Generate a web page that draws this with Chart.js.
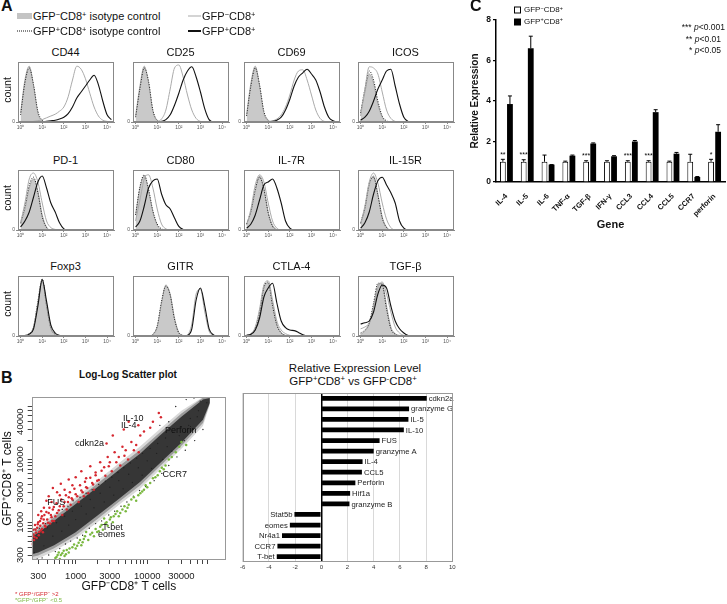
<!DOCTYPE html>
<html><head><meta charset="utf-8">
<script src="https://cdn.jsdelivr.net/npm/chart.js@4.4.1/dist/chart.umd.min.js"></script>
<style>
body{margin:0;background:#fff}
#fig{position:relative;width:727px;height:604px;font-family:Arial,"Liberation Sans",sans-serif;color:#111;overflow:hidden}
#fig canvas{position:absolute}
.t{position:absolute;white-space:nowrap;line-height:1}
sup{font-size:68%;vertical-align:0;position:relative;top:-0.45em}
</style></head><body><div id="fig"></div>
<script>
// ---- panel A: flow histograms (x = log10 fluorescence, y = % of max) ----
const histX = [0,0.2,0.4,0.6,0.8,1,1.2,1.4,1.6,1.8,2,2.2,2.4,2.6,2.8,3,3.2,3.4,3.6,3.8,4,4.2];
const markers = ['CD44','CD25','CD69','ICOS','PD-1','CD80','IL-7R','IL-15R','Foxp3','GITR','CTLA-4','TGF-β'];

const cd44IsoNeg = [15,70,93,60,15,2];
const cd44IsoPos = [12,65,90,62,18,3];
const cd44Neg = [0,0,0,1,2,4,7,10,13,18,25,42,70,93,88,72,48,25,10,3,1,0];
const cd44Pos = [0,0,0,0,0,0,1,2,3,5,8,14,25,40,50,60,70,78,62,35,12,4];

const cd25IsoNeg = [10,60,93,65,18,2];
const cd25IsoPos = [8,55,90,68,20,3];
const cd25Neg = [0,0,0,0,0,1,5,20,55,90,95,75,45,20,6,1];
const cd25Pos = [0,0,0,0,0,0,1,4,12,28,48,70,85,92,75,50,22,4];

const cd69IsoNeg = [12,65,93,60,15,2];
const cd69IsoPos = [10,60,90,62,18,3];
const cd69Neg = [0,0,0,0,0,1,2,5,12,25,45,70,85,87,70,45,20,6,1];
const cd69Pos = [0,0,0,0,0,0,1,3,8,20,38,60,75,82,88,80,70,50,25,8,2];

const icosIsoNeg = [15,50,80,65,30,8,1];
const icosIsoPos = [15,55,85,70,35,10,2];
const icosNeg = [10,55,92,90,80,50,20,6,1];
const icosPos = [3,8,18,35,55,70,85,88,60,30,8,1];

const pd1IsoNeg = [10,35,70,85,65,25,5];
const pd1IsoPos = [12,40,75,88,62,22,4];
const pd1Neg = [12,45,85,95,80,45,15,4,1];
const pd1Pos = [5,15,30,55,80,90,70,45,30,12,2];

const cd80IsoNeg = [25,70,90,65,30,8,1];
const cd80IsoPos = [25,72,92,68,32,10,2];
const cd80Neg = [15,50,85,92,70,35,10,2];
const cd80Pos = [5,15,40,70,82,85,60,42,35,20,6,1];

const il7rIsoNeg = [10,30,65,90,70,30,8,1];
const il7rIsoPos = [10,32,68,88,68,28,6];
const il7rNeg = [8,35,75,92,80,45,15,3];
const il7rPos = [3,10,25,50,75,80,85,70,45,15,3];

const il15rIsoNeg = [10,35,75,90,60,22,5];
const il15rIsoPos = [12,38,78,88,58,20,4];
const il15rNeg = [10,40,80,95,78,45,18,4];
const il15rPos = [3,12,30,60,82,88,75,62,45,15,3];

const foxp3IsoNeg = [0,1,4,15,55,93,50,12,3,1];
const foxp3IsoPos = [0,1,4,15,58,95,52,14,3,1];
const foxp3Neg = [0,0,3,14,55,92,52,14,4,1];
const foxp3Pos = [0,0,3,12,50,94,58,18,5,1];

const gitrIsoNeg = [0,0,0,0,2,15,55,85,70,30,6,1];
const gitrIsoPos = [0,0,0,0,3,17,58,83,68,28,5,1];
const gitrNeg = [0,0,0,0,0,0,0,0,0,0,0,0,2,20,70,78,40,8,1];
const gitrPos = [0,0,0,0,0,0,0,0,0,0,0,0,1,12,60,80,50,12,2];

const ctla4IsoNeg = [1,3,10,35,80,88,55,20,6,1];
const ctla4IsoPos = [1,3,12,40,82,90,50,18,5,1];
const ctla4Neg = [1,4,15,45,85,92,60,25,10,4,1];
const ctla4Pos = [1,3,10,30,65,80,88,55,25,14,10,9,6,2];

const tgfbIsoNeg = [3,8,20,50,85,88,50,15,4,1];
const tgfbIsoPos = [5,10,22,55,88,85,45,12,3];
const tgfbNeg = [12,15,22,45,80,90,70,40,15,5,1];
const tgfbPos = [20,22,25,40,70,85,80,50,25,12,5,1];

// ---- panel B: log-log scatter ----
const redPts = [[245,450],[250,600],[255,760],[262,520],[270,900],[280,680],[290,820],[300,1000],[310,700],[320,880],[330,1150],[340,780],[352,960],[365,1300],[380,850],[400,1100],[420,1400],[440,950],[460,1200],[480,1600],[500,1050],
  [248,520],[258,640],[266,580],[275,760],[285,560],[295,930],[305,620],[318,1050],[326,740],[338,1250],[348,690],[358,1100],[372,880],[390,1450],[410,980],[430,1700],[450,1300],[470,1050],[495,1750],[520,1250],
  [360,1700],[300,1300],[330,1500],[460,2100],[600,2700],[390,2200],
  [540,2000],[580,1550],[630,2300],[680,1800],[730,2700],[780,2100],[830,3000],[880,2400],[960,3400],[1050,2600],[1150,3900],[1250,3000],[1350,4400],[1450,3500],[1600,5100],[1750,4000],[1900,5600],[2100,4700],[2300,6600],[2600,5500],[2900,7800],[3200,6500],[3700,9000],[4200,8000],[4800,11500],[5400,10000],[6500,14000],[7600,13000],
  [550,1400],[600,1800],[650,1300],[700,2100],[750,1600],[800,2500],[850,1900],[900,2300],[1000,2800],[1100,2100],[1200,3200],[1300,2600],[1400,3600],[1500,2900],[1700,4200],[1800,3300],[2000,4600],
  [420,2600],[480,3500],[550,3000],[620,4100],[700,3300],[800,4800],[900,3900],[1000,5200],[1200,6500],[1400,5000],[1600,7800],[1900,6200],[2200,9000],[2500,7500],[2800,11000],[2700,18000],[3000,9000],[3500,13000],
  [4000,11000],[4500,16000],[5000,14000],[6000,19000],[7000,17000],[8000,24000],[3300,24000],[4700,30000],[5500,40000],[9000,28000],[11000,32000],[14500,55000],[15500,47000],[12000,40000],[7500,35000]];
const greenPts = [[520,270],[560,300],[600,260],[650,320],[700,290],[700,240],[750,360],[800,330],[900,400],[1000,380],[1100,470],[1200,430],[1300,540],[1400,700],[1500,520],[1600,640],[1800,600],[2000,700],[2200,850],[2400,760],[2500,1150],[2600,950],[2800,880],
  [3000,1100],[3300,1000],[3600,1350],[4000,1250],[4500,1600],[5000,1500],[5500,1900],[6000,2300],[7000,2200],[8000,2900],[9000,3300],[10000,3600],[11000,4200],[12000,5000],[14000,5600],[16000,7400],[18000,8000],[20000,10000],[25000,13000],[30000,19000],[35000,17000],
  [540,280],[580,330],[620,300],[680,350],[730,310],[820,380],[950,440],[1050,420],[1150,520],[1250,480],[1350,600],[1700,680],[1900,780],[2100,720],[2300,900],[2700,1000],[3100,1200],[3400,1250],[3800,1500],[4200,1400],[4800,1800],[5300,1700],[6500,2500],[7500,2700],[8500,3100],[9500,3900],[13000,5200],[15000,6500],[17000,7000],[22000,11000],[28000,16000]];
const blackPts = [[250,250],[270,780],[290,260],[310,800],[340,270],[380,950],[420,300],[460,1200],[520,340],[560,1400],[600,380],[650,1600],[720,450],[780,1800],[850,500],[920,2200],[1050,560],[1150,2500],[1250,620],[1400,2900],
  [1550,800],[1700,3300],[1900,950],[2100,4000],[2300,1050],[2600,4500],[2900,1300],[3200,5200],[3500,1500],[3900,6200],[4300,1800],[4700,7400],[5200,2100],[5800,8800],[6400,2600],[7100,10500],[7800,3200],[8600,12500],[9500,3700],
  [11000,15000],[12500,4600],[14000,18000],[16000,6000],[18000,22000],[20000,8000],[23000,27000],[26000,11000],[30000,33000],[34000,14000],[40000,45000],[46000,20000],[52000,60000],[60000,30000],[68000,80000],[25000,70000],[35000,90000],[45000,95000],[55000,85000],[20000,40000],[15000,35000],
  [265,330],[300,560],[360,420],[400,820],[480,600],[540,980],[640,720],[700,1250],[800,900],[900,1500],[1000,1100],[1200,1800],[1400,1350],[1600,2300],[1800,1700],[2200,2900],[2500,2100],[3000,3600],[3400,2700],[4000,4600],[4600,3400],[5500,5800],[6200,4300],[7500,7400],[8500,5600],[10000,9500],[11500,7200],[13500,12500],[16500,10000],[19000,16000],[22000,13500],[28000,24000],[33000,20000],[38000,35000],[44000,30000],[50000,48000]];
// dense core of the black cloud: upper / lower edge along GFP- axis
const bandX = [243,300,500,1000,2000,4000,8000,15000,30000,60000,75000];
const coreLow = [310,330,430,690,1270,2350,4400,8700,18500,43000,80000];
const coreHigh = [580,680,1060,1950,3600,6800,12500,24000,48000,90000,95000];
const midLow = [280,295,385,615,1120,2100,3900,7800,16500,38000,78000];
const midHigh = [650,770,1200,2200,4100,7700,14300,27000,54000,96000,98000];
const fringeLow = [255,265,345,550,990,1880,3450,6900,14800,34000,75000];
const fringeHigh = [730,860,1350,2500,4600,8700,16200,30500,60000,99000,99000];
const scTicks = [300,400,500,600,700,800,900,1000,2000,3000,4000,5000,6000,7000,8000,9000,10000,20000,30000,40000,50000,60000,70000];
const scXLabels = [300,1000,3000,10000,30000];
const scYLabels = [300,1000,3000,10000,40000];
const annText = ['IL-10','IL-4','Perforin','cdkn2a','FUS','CCR7','T-bet','eomes'];
const annX = [4600,4300,17700,980,400,16300,2350,2050];
const annY = [44700,34700,28900,18100,2050,5860,830,640];

// ---- panel B: relative expression bars ----
const genesB = ['cdkn2a','granzyme G','IL-5','IL-10','FUS','granzyme A','IL-4','CCL5','Perforin','Hif1a','granzyme B','Stat5b','eomes','Nr4a1','CCR7','T-bet'];
const valuesB = [8.05,6.7,6.65,6.3,4.45,4.0,3.15,3.1,2.6,2.2,2.15,-2.05,-2.4,-3.0,-3.35,-3.4];

// ---- panel C: qPCR ----
const genesC = ['IL-4','IL-5','IL-6','TNF-α','TGF-β','IFN-γ','CCL3','CCL4','CCL5','CCR7','perforin'];
const negC = [1,1,1,1,1,1,1,1,1,1,1];
const negErrC = [0.12,0.1,0.33,0.03,0.05,0.05,0.05,0.05,0.03,0.37,0.12];
const posC = [3.85,6.6,0.86,1.3,1.9,1.27,2.0,3.45,1.4,0.25,2.48];
const posErrC = [0.4,0.6,0,0.03,0.03,0.03,0.05,0.12,0.06,0.02,0.35];
const starsC = ['**','***','','','***','','***','***','','','*'];

const histData = {
  'CD44':[cd44IsoNeg,cd44IsoPos,cd44Neg,cd44Pos], 'CD25':[cd25IsoNeg,cd25IsoPos,cd25Neg,cd25Pos],
  'CD69':[cd69IsoNeg,cd69IsoPos,cd69Neg,cd69Pos], 'ICOS':[icosIsoNeg,icosIsoPos,icosNeg,icosPos],
  'PD-1':[pd1IsoNeg,pd1IsoPos,pd1Neg,pd1Pos], 'CD80':[cd80IsoNeg,cd80IsoPos,cd80Neg,cd80Pos],
  'IL-7R':[il7rIsoNeg,il7rIsoPos,il7rNeg,il7rPos], 'IL-15R':[il15rIsoNeg,il15rIsoPos,il15rNeg,il15rPos],
  'Foxp3':[foxp3IsoNeg,foxp3IsoPos,foxp3Neg,foxp3Pos], 'GITR':[gitrIsoNeg,gitrIsoPos,gitrNeg,gitrPos],
  'CTLA-4':[ctla4IsoNeg,ctla4IsoPos,ctla4Neg,ctla4Pos], 'TGF-β':[tgfbIsoNeg,tgfbIsoPos,tgfbNeg,tgfbPos]
};

const FONT = 'Arial, "Liberation Sans", sans-serif';
Chart.defaults.font.family = FONT;
Chart.defaults.color = '#111';

const fig = document.getElementById('fig');
function label(html, x, y, css, align) {
  const d = document.createElement('div');
  d.className = 't'; d.innerHTML = html;
  d.style.left = x + 'px'; d.style.top = y + 'px';
  const tf = {c:'translate(-50%,-50%)', l:'translate(0,-50%)', r:'translate(-100%,-50%)', v:'translate(-50%,-50%) rotate(-90deg)'};
  d.style.transform = tf[align || 'c'];
  if (css) d.style.cssText += css;
  fig.appendChild(d);
}
function canvasAt(x, y, w, h) {
  const c = document.createElement('canvas');
  c.width = w; c.height = h;
  c.style.left = x + 'px'; c.style.top = y + 'px';
  c.style.width = w + 'px'; c.style.height = h + 'px';
  fig.appendChild(c);
  return c;
}

// box round the plot area
Chart.register({
  id: 'box',
  afterDraw(chart, args, o) {
    if (!o.color) return;
    const a = chart.chartArea, ctx = chart.ctx;
    ctx.save(); ctx.strokeStyle = o.color; ctx.lineWidth = 1;
    ctx.strokeRect(Math.round(a.left) + 0.5, Math.round(a.top) + 0.5, Math.round(a.right - a.left) - 1, Math.round(a.bottom - a.top) - 1);
    ctx.restore();
  }
});
// gene names next to the horizontal bars
Chart.register({
  id: 'barlabels',
  afterDatasetsDraw(chart, args, o) {
    if (!o.on) return;
    const ctx = chart.ctx, meta = chart.getDatasetMeta(0);
    ctx.save(); ctx.font = '7.7px ' + FONT; ctx.fillStyle = '#222'; ctx.textBaseline = 'middle';
    meta.data.forEach((bar, j) => {
      const v = chart.data.datasets[0].data[j];
      ctx.textAlign = v >= 0 ? 'left' : 'right';
      ctx.fillText(chart.data.labels[j], v >= 0 ? bar.x + 2 : bar.x - 2, bar.y + 0.5);
    });
    ctx.restore();
  }
});
// named genes in the scatter
Chart.register({
  id: 'annot',
  afterDatasetsDraw(chart, args, o) {
    if (!o.text) return;
    const ctx = chart.ctx, xs = chart.scales.x, ys = chart.scales.y;
    ctx.save(); ctx.font = '9px ' + FONT; ctx.fillStyle = '#111'; ctx.textBaseline = 'middle'; ctx.textAlign = 'left';
    o.text.forEach((t, i) => ctx.fillText(t, xs.getPixelForValue(o.x[i]), ys.getPixelForValue(o.y[i])));
    ctx.restore();
  }
});
// error bars (upper half) + significance stars
Chart.register({
  id: 'errbars',
  afterDatasetsDraw(chart, args, o) {
    if (!o.errs) return;
    const ctx = chart.ctx, ys = chart.scales.y;
    ctx.save(); ctx.strokeStyle = '#000'; ctx.lineWidth = 1; ctx.fillStyle = '#000';
    ctx.font = '7px ' + FONT; ctx.textAlign = 'center'; ctx.textBaseline = 'bottom';
    o.errs.forEach((errs, d) => {
      chart.getDatasetMeta(d).data.forEach((bar, j) => {
        const v = chart.data.datasets[d].data[j];
        const top = ys.getPixelForValue(v + errs[j]);
        ctx.beginPath(); ctx.moveTo(bar.x, bar.y); ctx.lineTo(bar.x, top);
        ctx.moveTo(bar.x - 2, top); ctx.lineTo(bar.x + 2, top); ctx.stroke();
        if (d === 0 && o.stars[j]) ctx.fillText(o.stars[j], bar.x, top - 1);
      });
    });
    ctx.restore();
  }
});

const sup = ['⁰','¹','²','³','⁴'];
function histogram(name, bx, by) {
  const W = 95, H = 63;
  const curves = histData[name];
  const pts = arr => histX.map((x, i) => ({x: x, y: arr[i] || 0}));
  new Chart(canvasAt(bx - 9, by - 1, W + 11, H + 11), {
    type: 'line',
    data: {datasets: [
      {data: pts(curves[3]), borderColor: '#111', borderWidth: 1.1, order: 1},
      {data: pts(curves[2]), borderColor: '#aaa', borderWidth: 1, order: 2},
      {data: pts(curves[1]), borderColor: '#222', borderWidth: 1, borderDash: [1, 1.5], order: 3},
      {data: pts(curves[0]), borderColor: '#999', backgroundColor: '#c9c9c9', borderWidth: 0.8, fill: 'origin', order: 4}
    ]},
    options: {
      responsive: false, animation: false, events: [],
      layout: {padding: {top: 1, right: 1}},
      elements: {point: {radius: 0}, line: {cubicInterpolationMode: 'monotone'}},
      plugins: {legend: {display: false}, tooltip: {enabled: false}, box: {color: '#888'}},
      scales: {
        x: {type: 'linear', min: -0.12, max: 4.32,
          afterBuildTicks: s => { s.ticks = [0,1,2,3,4].map(v => ({value: v})); },
          afterFit: s => { s.height = 10; },
          ticks: {font: {size: 5}, color: '#555', padding: 1, maxRotation: 0, autoSkip: false, callback: v => '10' + sup[v]},
          grid: {drawOnChartArea: false, tickLength: 2, color: '#888'}, border: {color: '#888'}},
        y: {min: 0, max: 100,
          afterBuildTicks: s => { s.ticks = [{value: 0}]; },
          afterFit: s => { s.width = 9; },
          ticks: {font: {size: 5}, color: '#555', padding: 1, callback: () => '0'},
          grid: {drawOnChartArea: false, tickLength: 2, color: '#888'}, border: {color: '#888'}}
      }
    }
  });
}

const colX = [18, 133, 244, 358];
const rowY = [59, 167, 273];
markers.forEach((m, i) => {
  const bx = colX[i % 4], by = rowY[Math.floor(i / 4)];
  histogram(m, bx, by);
  label(m, bx + 47.5, by - 7, 'font-size:11px');
  if (i % 4 === 0) label('count', 7, by + 31, 'font-size:10.5px', 'v');
});

// panel A header + legend
label('A', 1, 6, 'font-size:16px;font-weight:bold', 'l');
label('', 17, 16, 'width:15px;height:6px;background:#c4c4c4', 'l');
label('GFP<sup>−</sup>CD8<sup>+</sup> isotype control', 33, 16, 'font-size:11px', 'l');
label('', 17, 31, 'width:15px;height:0;border-top:1.5px dotted #111', 'l');
label('GFP<sup>+</sup>CD8<sup>+</sup> isotype control', 33, 31, 'font-size:11px', 'l');
label('', 188, 16, 'width:13px;height:0;border-top:1.5px solid #aaa', 'l');
label('GFP<sup>−</sup>CD8<sup>+</sup>', 202, 16, 'font-size:11px', 'l');
label('', 188, 31, 'width:13px;height:0;border-top:2px solid #111', 'l');
label('GFP<sup>+</sup>CD8<sup>+</sup>', 202, 31, 'font-size:11px', 'l');

// ---- scatter ----
const toPts = arr => arr.map(p => ({x: p[0], y: p[1]}));
const bandPts = arr => bandX.map((x, i) => ({x: x, y: arr[i]}));
const bandSet = (arr, fill, color, order) => ({data: bandPts(arr), showLine: true, fill: fill, backgroundColor: color, borderWidth: 0, pointRadius: 0, order: order});
new Chart(canvasAt(0, 393, 230, 203), {
  type: 'scatter',
  data: {datasets: [
    {data: toPts(redPts), backgroundColor: 'rgb(214,40,48)', pointRadius: 1.25, borderWidth: 0, order: 1},
    {data: toPts(greenPts), backgroundColor: 'rgb(122,184,64)', pointRadius: 1.25, borderWidth: 0, order: 2},
    {data: toPts(blackPts), backgroundColor: '#222', pointRadius: 0.7, borderWidth: 0, order: 3},
    bandSet(coreHigh, '+1', 'rgba(15,15,15,0.72)', 4), bandSet(coreLow, false, 'transparent', 5),
    bandSet(midHigh, '+1', 'rgba(40,40,40,0.35)', 6), bandSet(midLow, false, 'transparent', 7),
    bandSet(fringeHigh, '+1', 'rgba(80,80,80,0.22)', 8), bandSet(fringeLow, false, 'transparent', 9)
  ]},
  options: {
    responsive: false, animation: false, events: [],
    layout: {padding: {top: 2, right: 4}},
    plugins: {legend: {display: false}, tooltip: {enabled: false}, box: {color: '#999'},
      annot: {text: annText, x: annX, y: annY}},
    scales: {
      x: {type: 'logarithmic', min: 243, max: 126000,
        afterBuildTicks: s => { s.ticks = scTicks.map(v => ({value: v})); },
        afterFit: s => { s.height = 36; },
        ticks: {font: {size: 9.5}, color: '#222', padding: 7, maxRotation: 0, autoSkip: false,
          callback: v => scXLabels.includes(v) ? String(v) : ''},
        grid: {drawOnChartArea: false, tickLength: 4, color: '#444'}, border: {display: false},
        title: {display: true, text: 'GFP⁻CD8⁺ T cells', font: {size: 12}, color: '#111', padding: {top: 0, bottom: 2}}},
      y: {type: 'logarithmic', min: 250, max: 99000,
        afterBuildTicks: s => { s.ticks = scTicks.map(v => ({value: v})); },
        afterFit: s => { s.width = 31.7; },
        ticks: {font: {size: 9.5}, color: '#222', padding: -6, minRotation: 90, maxRotation: 90, crossAlign: 'center', autoSkip: false,
          callback: v => scYLabels.includes(v) ? String(v) : ''},
        grid: {drawOnChartArea: false, tickLength: 4, color: '#444'}, border: {display: false},
        title: {display: true, text: 'GFP⁺CD8⁺ T cells', font: {size: 12}, color: '#111', padding: {top: 0, bottom: 0}}}
    }
  }
});
label('B', 1, 378, 'font-size:16px;font-weight:bold', 'l');
label('Log-Log Scatter plot', 128, 375, 'font-size:10px;font-weight:bold');
label('* GFP<sup>+</sup>/GFP<sup>−</sup> &gt;2', 15, 594, 'font-size:6px;color:rgb(214,40,48)', 'l');
label('*GFP<sup>+</sup>/GFP<sup>−</sup> &lt;0.5', 15, 600, 'font-size:6px;color:rgb(122,184,64)', 'l');

// ---- horizontal bars ----
new Chart(canvasAt(236, 391, 222, 182), {
  type: 'bar',
  data: {labels: genesB, datasets: [{data: valuesB, backgroundColor: '#000', barPercentage: 0.45, categoryPercentage: 1}]},
  options: {
    indexAxis: 'y', responsive: false, animation: false, events: [],
    layout: {padding: {left: 6.7, top: 2, right: 5.7}},
    plugins: {legend: {display: false}, tooltip: {enabled: false}, box: {color: '#999'}, barlabels: {on: true}},
    scales: {
      x: {min: -6, max: 10, afterFit: s => { s.height = 11; },
        ticks: {stepSize: 2, font: {size: 6}, color: '#333', padding: 2},
        grid: {drawTicks: false, color: c => c.tick && c.tick.value === 0 ? '#000' : '#cfcfcf', lineWidth: c => c.tick && c.tick.value === 0 ? 1.5 : 0.8},
        border: {display: false}},
      y: {display: false}
    }
  }
});
label('Relative Expression Level', 355, 369, 'font-size:11.5px');
label('GFP<sup>+</sup>CD8<sup>+</sup> vs GFP<sup>-</sup>CD8<sup>+</sup>', 353, 382, 'font-size:11.5px');

// ---- panel C ----
new Chart(canvasAt(466, 12, 261, 222), {
  type: 'bar',
  data: {labels: genesC, datasets: [
    {data: negC, backgroundColor: '#fff', borderColor: '#000', borderWidth: 1},
    {data: posC, backgroundColor: '#000'}
  ]},
  options: {
    responsive: false, animation: false, events: [],
    layout: {padding: {top: 8, right: 2}},
    datasets: {bar: {barPercentage: 0.82, categoryPercentage: 0.68}},
    plugins: {legend: {display: false}, tooltip: {enabled: false}, errbars: {errs: [negErrC, posErrC], stars: starsC}},
    scales: {
      x: {afterFit: s => { s.height = 52; },
        ticks: {font: {size: 7.5, weight: 'bold'}, color: '#111', minRotation: 45, maxRotation: 45, padding: 2, autoSkip: false},
        grid: {display: false}, border: {color: '#000', width: 1.5},
        title: {display: true, text: 'Gene', font: {size: 11, weight: 'bold'}, color: '#111', padding: {top: 0, bottom: 2}}},
      y: {min: 0, max: 8, afterFit: s => { s.width = 30; },
        ticks: {stepSize: 2, font: {size: 8.5, weight: 'bold'}, color: '#111', padding: 2},
        grid: {drawOnChartArea: false, tickLength: 3, color: '#000', lineWidth: 1.2}, border: {color: '#000', width: 1.5},
        title: {display: true, text: 'Relative Expression', font: {size: 10, weight: 'bold'}, color: '#111', padding: {top: 3, bottom: 0}}}
    }
  }
});
label('C', 470, 6, 'font-size:16px;font-weight:bold', 'l');
label('', 514, 10, 'width:5px;height:5px;border:1px solid #000;background:#fff', 'l');
label('GFP<sup>−</sup>CD8<sup>+</sup>', 524, 10, 'font-size:8px', 'l');
label('', 514, 21.5, 'width:7px;height:7px;background:#000', 'l');
label('GFP<sup>+</sup>CD8<sup>+</sup>', 524, 21.5, 'font-size:8px', 'l');
label('*** <i>p</i>&lt;0.001', 725, 27, 'font-size:8.5px', 'r');
label('** <i>p</i>&lt;0.01', 721, 39, 'font-size:8.5px', 'r');
label('* <i>p</i>&lt;0.05', 721, 50, 'font-size:8.5px', 'r');
</script></body></html>
